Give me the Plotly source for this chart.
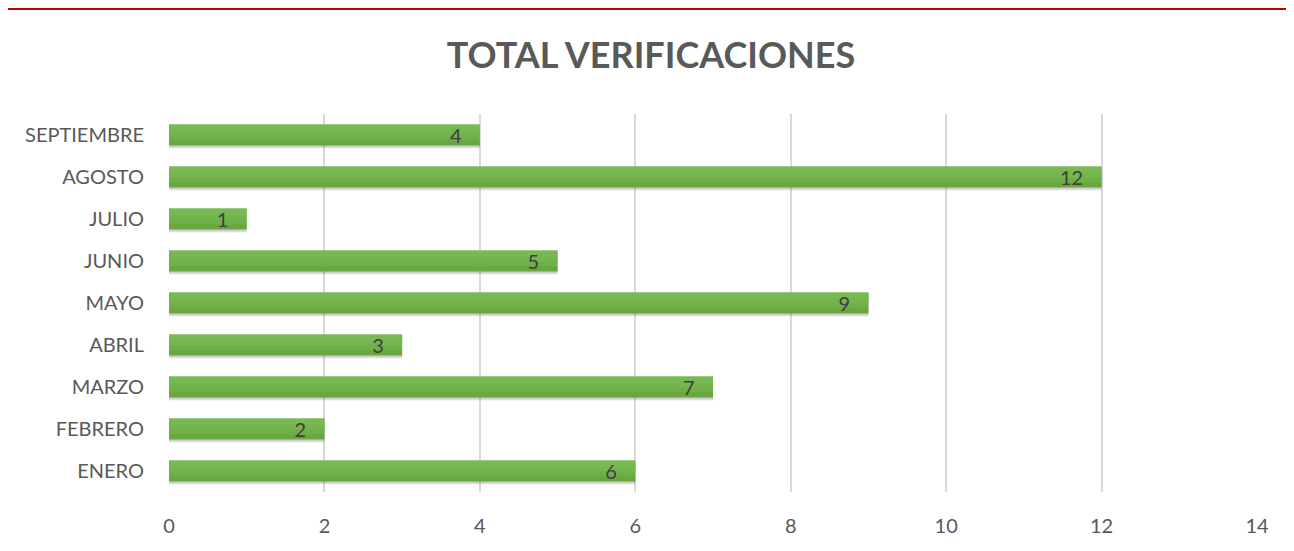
import plotly.graph_objects as go

months = ["ENERO", "FEBRERO", "MARZO", "ABRIL", "MAYO", "JUNIO", "JULIO", "AGOSTO", "SEPTIEMBRE"]
values = [6, 2, 7, 3, 9, 5, 1, 12, 4]
x_ticks = [0, 2, 4, 6, 8, 10, 12, 14]

# page body has an 8px margin, so the figure is drawn 8px right/down
W, H = 1286, 543
L, R, T, B = 161, 37, 106, 59
ph = H - T - B
pw = W - L - R

def py(pix):
    return (H - B - pix) / ph

def px(pix):
    return (pix - L) / pw

FONT = "Lato, Open Sans, sans-serif"

fig = go.Figure()
# soft shadow under each bar
fig.add_trace(go.Bar(
    y=months, x=values, orientation="h", width=0.5, offset=-0.32,
    marker=dict(color="rgba(0,0,0,0.08)", line=dict(width=0)),
    hoverinfo="skip", showlegend=False,
))
fig.add_trace(go.Bar(
    y=months, x=values, orientation="h", width=0.5, offset=-0.295,
    marker=dict(color="rgba(0,0,0,0.12)", line=dict(width=0)),
    hoverinfo="skip", showlegend=False,
))
fig.add_trace(go.Bar(
    y=months, x=values, orientation="h", width=0.5, offset=-0.25,
    marker=dict(color="#68A73D", line=dict(width=0)),
    hoverinfo="skip", showlegend=False,
))
# gradient look: lighter layers toward the top of each bar
for w, a in [(0.38, 0.30), (0.26, 0.30), (0.14, 0.30)]:
    fig.add_trace(go.Bar(
        y=months, x=values, orientation="h", width=w, offset=0.25 - w,
        marker=dict(color=f"rgba(130,195,95,{a})", line=dict(width=0)),
        hoverinfo="skip", showlegend=False,
    ))
# value labels
fig.add_trace(go.Bar(
    y=months, x=values, orientation="h", width=0.5, offset=-0.25,
    marker=dict(color="rgba(0,0,0,0)", line=dict(width=0)),
    text=[str(v) + "\u00a0\u00a0\u00a0" for v in values], textposition="inside",
    insidetextanchor="end", textangle=0, constraintext="none",
    textfont=dict(family=FONT, size=20, color="#404040"),
    hoverinfo="skip", showlegend=False,
))

fig.update_layout(
    width=W, height=H,
    margin=dict(l=L, r=R, t=T, b=B, pad=0),
    paper_bgcolor="white", plot_bgcolor="white",
    barmode="overlay",
    title=dict(text="<b>TOTAL VERIFICACIONES</b>", x=0.5, xanchor="center",
               y=1 - 47 / H, yanchor="middle",
               font=dict(family=FONT, size=36, color="#595959")),
    font=dict(family=FONT, color="#595959", size=20),
    xaxis=dict(range=[0, 14], tickvals=x_ticks, showgrid=True, gridcolor="#D9D9D9",
               gridwidth=1.5, zeroline=False, showline=False,
               tickfont=dict(size=20, color="#595959"), ticks="", ticklabelstandoff=20),
    yaxis=dict(categoryorder="array", categoryarray=months, range=[-0.5, 8.5],
               showgrid=False, zeroline=False, showline=False, ticks="",
               tickfont=dict(size=20, color="#595959"), ticklabelstandoff=24),
    shapes=[
        dict(type="line", xref="paper", yref="paper", x0=px(0), x1=px(W), y0=py(1), y1=py(1),
             line=dict(color="#C00000", width=2)),
    ],
)

fig.write_html("out.html")
